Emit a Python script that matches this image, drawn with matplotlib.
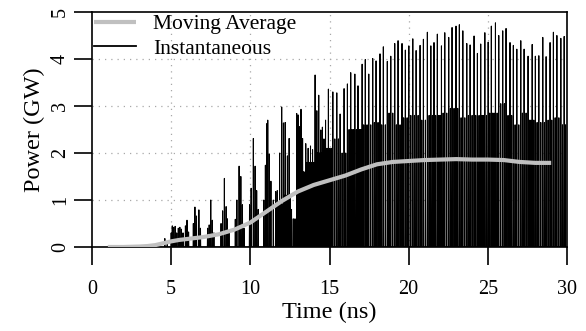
import numpy as np
import matplotlib
matplotlib.use("Agg")
import matplotlib.pyplot as plt

plt.rcParams['font.family'] = ['Liberation Serif', 'DejaVu Serif']

# moving average (GW) vs time (ns)
avg_t = [1, 2, 3, 3.5, 4, 4.5, 5, 5.5, 6, 7, 8, 9, 10, 11, 12, 13, 14, 15, 16,
         17, 18, 19, 20, 21, 22, 23, 24, 25, 26, 27, 28, 29]
avg_p = [0, 0, 0.01, 0.02, 0.04, 0.08, 0.12, 0.15, 0.17, 0.21, 0.27, 0.37, 0.52,
         0.75, 0.98, 1.18, 1.32, 1.42, 1.52, 1.65, 1.76, 1.81, 1.83, 1.85, 1.86,
         1.87, 1.86, 1.86, 1.85, 1.81, 1.79, 1.79]

# individual spikes in the early bursts
burst_t = [4.6, 4.75, 5.0, 5.07, 5.15, 5.25, 5.35, 5.45, 5.55, 5.65, 5.75, 5.9,
           6.0, 6.1, 6.4, 6.5, 6.6, 6.75, 6.85, 7.3, 7.4, 7.5, 7.6, 7.7, 8.15,
           8.25, 8.36, 8.47, 8.55, 8.65, 9.05, 9.15, 9.29, 9.4, 9.5, 9.6, 9.95,
           10.05, 10.19, 10.3, 10.4, 10.5, 10.85, 10.95, 11.05, 11.1, 11.2, 11.3,
           11.45, 11.6, 11.7, 11.85, 11.98, 12.09, 12.2, 12.34, 12.45, 12.6,
           12.93, 13.02, 13.1, 13.2, 13.3, 13.4, 13.5, 13.65, 13.8, 13.93, 14.09,
           14.2, 14.32, 14.45, 14.55, 14.65, 14.75, 14.93]
burst_p = [0.18, 0.1, 0.3, 0.45, 0.42, 0.44, 0.3, 0.4, 0.42, 0.38, 0.3, 0.45,
           0.57, 0.32, 0.5, 0.85, 0.66, 0.79, 0.4, 0.4, 0.47, 1.0, 0.57, 0.3, 0.5,
           0.77, 1.46, 0.86, 0.6, 0.3, 0.59, 1.0, 1.72, 1.5, 0.9, 0.4, 0.9,
           1.25, 2.31, 1.72, 1.2, 0.8, 1.0, 1.74, 2.63, 2.7, 1.98, 1.4,
           1.0, 1.18, 1.2, 2.0, 2.98, 2.64, 2.65, 1.94, 2.31, 0.8,
           2.84, 2.81, 2.56, 2.93, 2.31, 1.5, 2.2, 2.1, 2.15, 2.07, 3.66,
           2.9, 3.23, 2.49, 2.55, 2.3, 2.7, 3.36]

# tall periodic spikes in saturation
peak_t = [15.21, 15.46, 15.67, 15.92, 16.13, 16.34, 16.60, 16.80, 17.06, 17.26,
          17.48, 17.73, 17.94, 18.19, 18.40, 18.65, 18.87, 19.12, 19.33, 19.58,
          19.79, 20.01, 20.26, 20.47, 20.72, 20.93, 21.18, 21.40, 21.60, 21.81,
          22.07, 22.28, 22.53, 22.74, 22.99, 23.20, 23.42, 23.67, 23.88, 24.13,
          24.34, 24.55, 24.81, 25.02, 25.22, 25.48, 25.69, 25.94, 26.15, 26.40,
          26.61, 26.83, 27.08, 27.29, 27.54, 27.80, 28.00, 28.22, 28.47, 28.68,
          28.93, 29.14, 29.36, 29.61, 29.82]
peak_p = [3.30, 3.28, 2.83, 3.37, 3.47, 3.71, 3.68, 3.43, 3.89, 3.99,
          3.68, 4.01, 3.96, 4.11, 4.26, 3.95, 4.06, 4.33, 4.39, 4.33,
          4.19, 4.28, 4.43, 4.18, 4.29, 4.42, 4.57, 4.28, 4.35, 4.53,
          4.28, 4.56, 4.46, 4.67, 4.70, 4.73, 4.60, 4.33, 4.30, 4.49,
          4.12, 4.32, 4.56, 4.36, 4.70, 4.77, 4.50, 4.60, 4.65, 4.35,
          4.29, 4.21, 4.39, 4.21, 4.06, 4.31, 4.06, 4.07, 4.46, 4.05,
          4.35, 4.57, 4.50, 4.44, 4.48]

# level of the dense fill between the spikes (held until next entry)
body_t = [0, 11.5, 12.0, 12.5, 13.0, 13.5, 14.0, 14.5, 15.0, 15.5, 16.0, 16.5,
          17.0, 17.5, 18.0, 18.5, 19.0, 19.5, 20.0, 20.5, 21.0, 21.5, 22.0,
          22.5, 23.0, 23.5, 24.0, 24.5, 25.0, 25.5, 26.0, 26.5, 27.0, 27.5,
          28.0, 28.5, 29.0, 29.5]
body_p = [0, 0.9, 1.1, 0.6, 1.6, 1.8, 2.0, 2.1, 2.3, 2.0, 2.5, 2.5, 2.6, 2.65,
          2.6, 2.85, 2.6, 2.75, 2.8, 2.7, 2.8, 2.8, 2.85, 2.95, 2.75, 2.8, 2.8,
          2.8, 2.85, 3.05, 2.8, 2.6, 2.85, 2.7, 2.65, 2.7, 2.75, 2.6]

# build the instantaneous trace from the read spikes and fill level
spk_t = np.array(burst_t + peak_t)
spk_p = np.array(burst_p + peak_p)
w = 0.015
xs, ys = [1.0], [0.0]
for i, (t, h) in enumerate(zip(spk_t, spk_p)):
    xs += [t - w, t, t + w]
    ys += [0, h, 0]
    t_next = spk_t[i + 1] if i + 1 < len(spk_t) else 30.0
    lvl = body_p[np.searchsorted(body_t, t, side='right') - 1]
    if lvl > 0:
        n = max(1, int(round((t_next - t) / 0.1)) - 1)
        for k in range(1, n + 1):
            tb = t + k * (t_next - t) / (n + 1)
            xs += [tb - w, tb, tb + w]
            ys += [0, lvl, 0]
xs.append(30.0)
ys.append(0.0)

fig = plt.figure(figsize=(5.86, 3.31), dpi=100)
ax = fig.add_axes([0.157, 0.2538, 0.8106, 0.7099])

for v in [5, 10, 15, 20, 25]:
    ax.axvline(v, color='#a8a8a8', lw=0.9, ls=(0, (1, 4)), zorder=0)
for v in [1, 2, 3, 4]:
    ax.axhline(v, color='#a8a8a8', lw=0.9, ls=(0, (1, 4)), zorder=0)

ax.plot(xs, ys, color='black', lw=0.75, label='Instantaneous', zorder=2)
ax.plot(avg_t, avg_p, color='#c0c0c0', lw=3.0, label='Moving Average',
        solid_capstyle='butt', zorder=3)

ax.set_xlim(0, 30)
ax.set_ylim(0, 5)
ax.set_xticks([0, 5, 10, 15, 20, 25, 30])
ax.set_yticks([0, 1, 2, 3, 4, 5])
ax.tick_params(direction='out', length=13, width=1.2, labelsize=14.5)
ax.tick_params(axis='x', pad=11)
ax.tick_params(axis='y', pad=3)
for lab in ax.get_yticklabels():
    lab.set_rotation(90)
    lab.set_va('center')
for s in ax.spines.values():
    s.set_linewidth(1.2)

ax.set_xlabel('Time (ns)', fontsize=17.5, labelpad=2)
ax.set_ylabel('Power (GW)', fontsize=17.5, labelpad=4)

h, l = ax.get_legend_handles_labels()
leg = ax.legend(h[::-1], l[::-1], loc='upper left', frameon=False, fontsize=15.5,
                handlelength=1.95, handletextpad=0.8, borderaxespad=0.0,
                labelspacing=0.2, borderpad=0.1, bbox_to_anchor=(0.0, 1.0))
leg.get_lines()[1].set_linewidth(1.3)

fig.savefig('out.png', dpi=100)
